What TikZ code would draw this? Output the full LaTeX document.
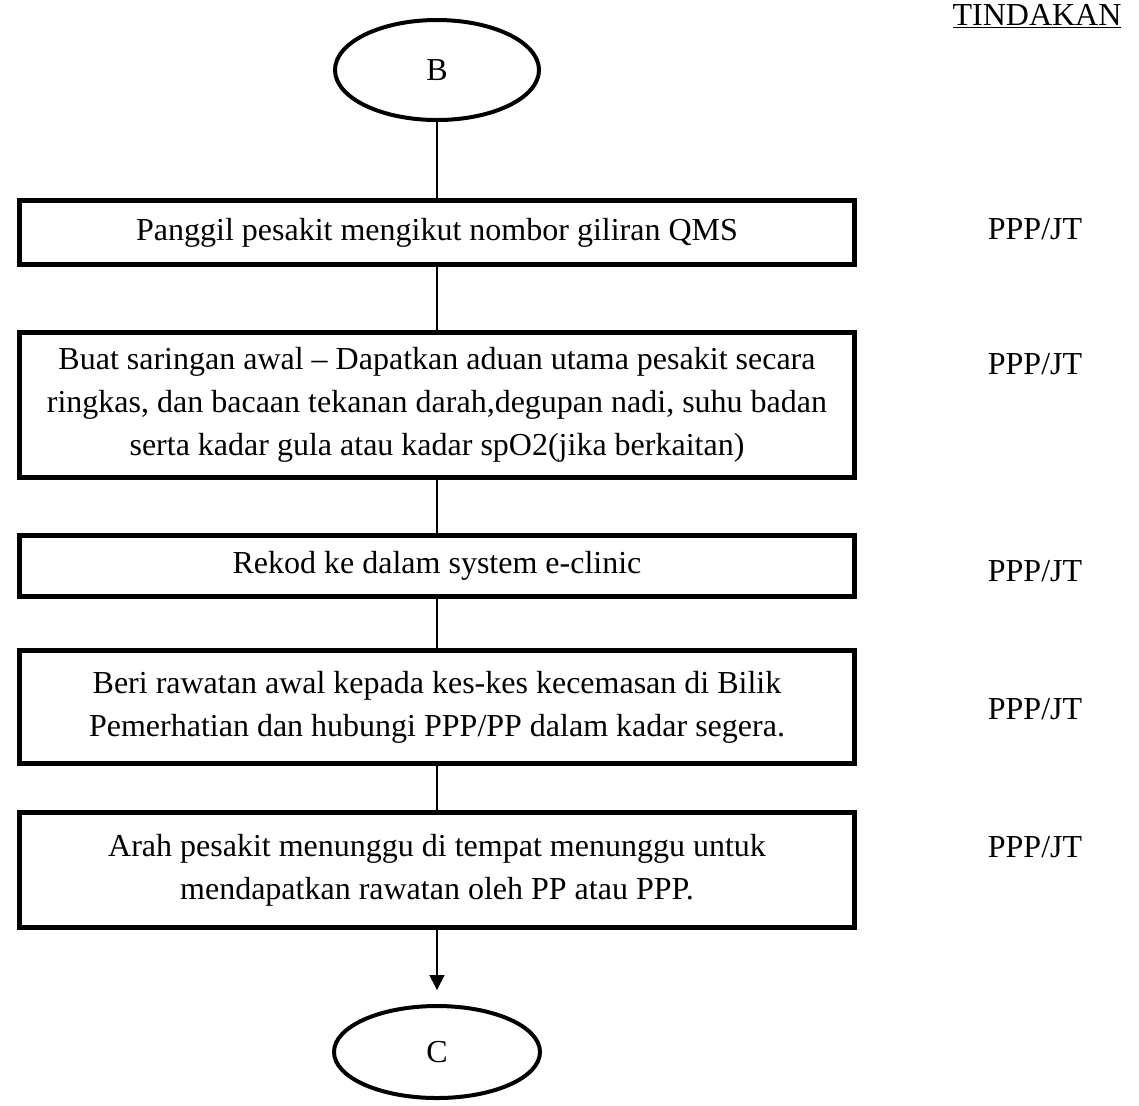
\documentclass[tikz,border=0pt]{standalone}
\usepackage{fontspec}
\setmainfont{Liberation Serif}
\usepackage{tikz}
\usetikzlibrary{shapes.geometric}
\usetikzlibrary{arrows.meta}

\tikzset{
  endpoint/.style={ellipse, draw, line width=2pt, inner sep=0pt},
  stepbox/.style={rectangle, draw, line width=2.4pt, minimum width=417.75pt, align=center, inner sep=0pt},
  flowline/.style={line width=0.8pt},
  who/.style={inner sep=0pt},
}

\begin{document}
\begin{tikzpicture}[x=0.5pt, y=-0.5pt, font=\fontsize{16}{21.5}\selectfont]
        \useasboundingbox (0,0) rectangle (1139,1105);
        %HEADER
        \node[who, anchor=base] (tindakan) at (1037,25) {\underline{TINDAKAN}};
        %START
        \node[endpoint, minimum width=102pt, minimum height=50pt] (B) at (437,70) {B};
        %STEPS
        \node[stepbox, minimum height=32.25pt] (panggil) at (437,232.5) {Panggil pesakit mengikut nombor giliran QMS};
        \node[stepbox, minimum height=72.75pt] (saringan) at (437,405) {Buat saringan awal -- Dapatkan aduan utama pesakit secara\\ ringkas, dan bacaan tekanan darah,degupan nadi, suhu badan\\ serta kadar gula atau kadar spO2(jika berkaitan)};
        \node[stepbox, minimum height=30.75pt] (rekod) at (437,566) {Rekod ke dalam system e-clinic};
        \node[stepbox, minimum height=56.75pt] (rawatan) at (437,707) {Beri rawatan awal kepada kes-kes kecemasan di Bilik\\ Pemerhatian dan hubungi PPP/PP dalam kadar segera.};
        \node[stepbox, minimum height=57.75pt] (arah) at (437,870) {Arah pesakit menunggu di tempat menunggu untuk\\ mendapatkan rawatan oleh PP atau PPP.};
        %END
        \node[endpoint, minimum width=103pt, minimum height=46pt] (C) at (437,1052) {C};
        %WHO DOES IT
        \node[who] (jt1) at (1035,229) {PPP/JT};
        \node[who] (jt2) at (1035,364) {PPP/JT};
        \node[who] (jt3) at (1035,571) {PPP/JT};
        \node[who] (jt4) at (1035,709) {PPP/JT};
        \node[who] (jt5) at (1035,847) {PPP/JT};
        %LINES
        \draw[flowline] (B) -- (panggil);
        \draw[flowline] (panggil) -- (saringan);
        \draw[flowline] (saringan) -- (rekod);
        \draw[flowline] (rekod) -- (rawatan);
        \draw[flowline] (rawatan) -- (arah);
        \draw[flowline, -{Triangle[width=7.5pt,length=7.5pt]}, shorten >=7pt] (arah) -- (C);
\end{tikzpicture}
\end{document}
